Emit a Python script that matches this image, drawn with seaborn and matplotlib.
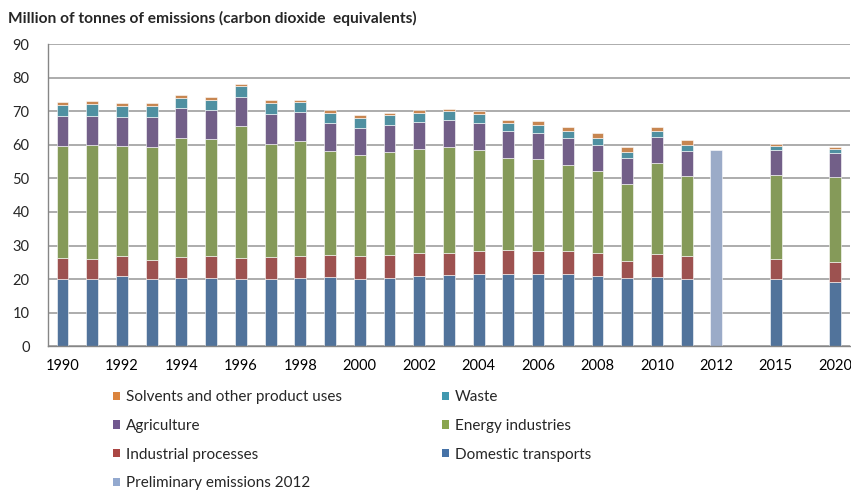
import numpy as np
import matplotlib
matplotlib.use("Agg")
import matplotlib.pyplot as plt
import seaborn as sns
from matplotlib.patches import Patch

# x categories (blank slots keep the gaps before 2015 and 2020)
categories = [str(y) for y in range(1990, 2013)] + [" ", "2015", "  ", "2020"]
tick_labels = [c if i % 2 == 0 else "" for i, c in enumerate(categories)]

# years that have the sector breakdown
seg_years = [str(y) for y in range(1990, 2012)] + ["2015", "2020"]

domestic = [20.0, 20.0, 21.0, 20.0, 20.4, 20.3, 20.0, 20.1, 20.4, 20.5, 20.1, 20.3,
            20.9, 21.1, 21.5, 21.6, 21.6, 21.6, 21.0, 20.4, 20.5, 20.1, 19.9, 19.1]
industrial = [6.3, 6.0, 5.8, 5.8, 6.3, 6.6, 6.3, 6.4, 6.5, 6.6, 6.8, 6.8,
              6.9, 6.7, 7.0, 7.0, 6.8, 6.8, 6.8, 5.0, 7.0, 6.7, 6.1, 6.1]
energy = [33.3, 33.9, 32.8, 33.6, 35.4, 34.7, 39.4, 33.9, 34.3, 31.2, 30.0, 30.7,
          30.9, 31.6, 30.1, 27.6, 27.3, 25.7, 24.3, 23.0, 27.0, 23.8, 24.9, 25.2]
agriculture = [9.0, 8.8, 8.7, 8.9, 8.9, 8.9, 8.6, 8.9, 8.6, 8.3, 8.2, 8.2,
               8.2, 8.1, 8.0, 7.8, 7.7, 7.9, 7.9, 7.7, 7.8, 7.7, 7.7, 7.3]
waste = [3.3, 3.5, 3.4, 3.4, 3.1, 2.9, 3.2, 3.2, 3.1, 2.9, 2.9, 2.9,
         2.6, 2.6, 2.7, 2.5, 2.4, 2.1, 2.0, 1.9, 1.7, 1.7, 1.2, 1.1]
solvents = [0.8, 0.8, 0.8, 0.8, 0.9, 0.9, 0.7, 0.8, 0.6, 0.8, 0.8, 0.7,
            0.8, 0.7, 0.7, 0.8, 1.3, 1.2, 1.4, 1.3, 1.4, 1.3, 0.4, 0.5]

prelim_years = ["2012"]
prelim_values = [58.4]

series = [
    ("Domestic transports", domestic, "#4572A7"),
    ("Industrial processes", industrial, "#AA4643"),
    ("Energy industries", energy, "#89A54E"),
    ("Agriculture", agriculture, "#71588F"),
    ("Waste", waste, "#4198AF"),
    ("Solvents and other product uses", solvents, "#DB843D"),
]
prelim_label = "Preliminary emissions 2012"
prelim_color = "#93A9CF"

sns.set_style("white")
plt.rcParams["font.family"] = ["Lato", "DejaVu Sans"]

fig = plt.figure(figsize=(8.51, 4.91), dpi=100)
ax = fig.add_axes([0.056, 0.295, 0.943, 0.615])

bottom = np.zeros(len(seg_years))
for name, vals, color in series:
    sns.barplot(x=seg_years, y=vals, order=categories, color=color, bottom=bottom,
                width=0.4, errorbar=None, edgecolor="white", linewidth=0.4, ax=ax)
    bottom = bottom + np.array(vals)

sns.barplot(x=prelim_years, y=prelim_values, order=categories, color=prelim_color,
            width=0.4, errorbar=None, edgecolor="white", linewidth=0.4, ax=ax)

ax.set_xlim(-0.5, len(categories) - 0.5)
ax.set_ylim(0, 90)
ax.set_yticks(np.arange(0, 91, 10))
ax.set_xticks(range(len(categories)))
ax.set_xticklabels(tick_labels)
ax.set_xticks(np.arange(-0.5, len(categories), 1), minor=True)
ax.tick_params(axis="x", which="major", length=0, pad=9, labelsize=10.5, colors="black")
ax.tick_params(axis="x", which="minor", length=5, width=1, color="#868686", direction="out")
ax.tick_params(axis="y", length=5, width=1, color="#868686", direction="out", pad=8, labelsize=10.5)
ax.set_xlabel("")
ax.set_ylabel("")

ax.yaxis.grid(True, color="#A6A6A6", linewidth=1.3)
ax.set_axisbelow(True)
for side in ["top", "right"]:
    ax.spines[side].set_visible(False)
for side in ["left", "bottom"]:
    ax.spines[side].set_color("#868686")
    ax.spines[side].set_linewidth(1)

fig.text(0.009, 0.962, "Million of tonnes of emissions (carbon dioxide  equivalents)",
         fontsize=11.2, fontweight="bold", va="center", ha="left")

# legend: column-major order to match the two-column layout
colors = {name: c for name, _, c in series}
order = ["Solvents and other product uses", "Agriculture", "Industrial processes", prelim_label,
         "Waste", "Energy industries", "Domestic transports"]
colors[prelim_label] = prelim_color
handles = [Patch(facecolor=colors[n], edgecolor="none", label=n) for n in order]
fig.legend(handles=handles, loc="upper left", bbox_to_anchor=(0.133, 0.205), ncol=2,
           frameon=False, fontsize=11, handlelength=0.46, handleheight=0.46,
           handletextpad=0.4, labelspacing=0.96, columnspacing=6.5, borderpad=0,
           borderaxespad=0)

fig.savefig("out.png", dpi=100)
